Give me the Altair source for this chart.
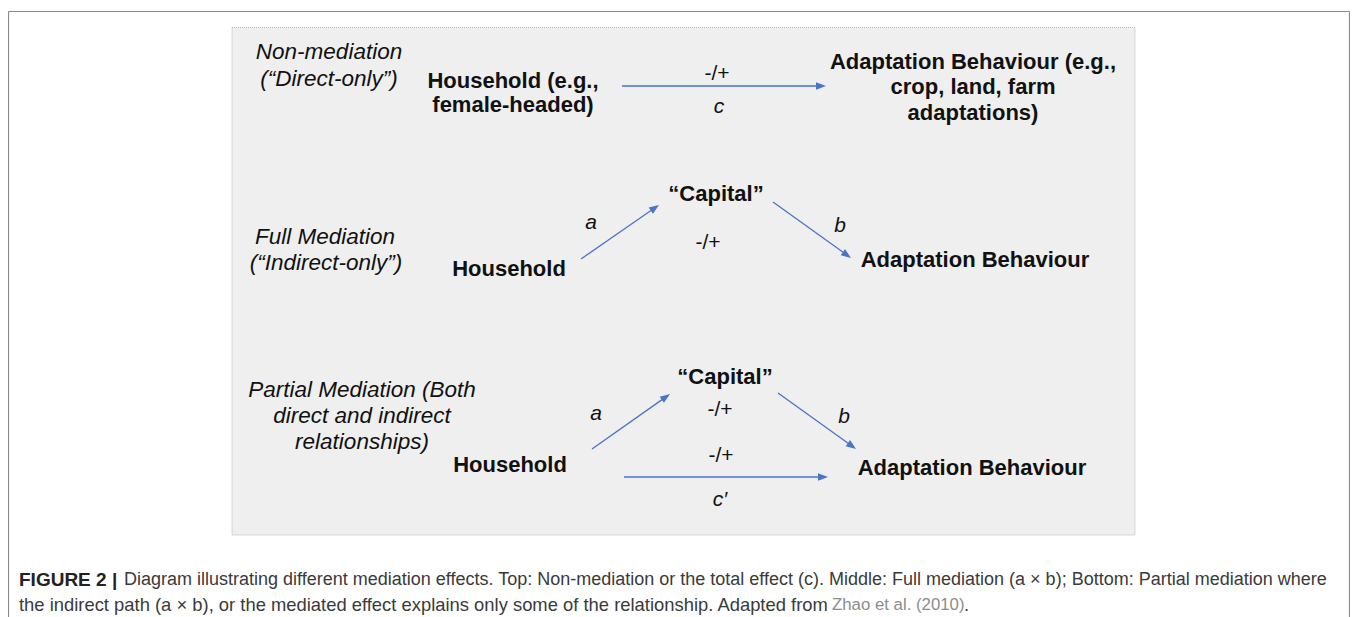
import math
import altair as alt
import pandas as pd

# ---------------- data ----------------
bold_text = ["Household (e.g.,", "female-headed)",
             "Adaptation Behaviour (e.g.,", "crop, land, farm", "adaptations)",
             "\u201cCapital\u201d", "Household", "Adaptation Behaviour",
             "\u201cCapital\u201d", "Household", "Adaptation Behaviour"]
bold_x = [513, 513, 973, 973, 973, 716, 509, 975, 725, 510, 972]
bold_y = [81, 105, 62, 87, 113, 194, 269, 260, 377, 465, 468]

italic_text = ["Non-mediation", "(\u201cDirect-only\u201d)",
               "Full Mediation", "(\u201cIndirect-only\u201d)",
               "Partial Mediation (Both", "direct and indirect", "relationships)"]
italic_x = [329, 329, 325, 326, 362, 362, 362]
italic_y = [52, 79, 237, 263, 390, 416, 442]

path_text = ["c", "a", "b", "a", "b", "c\u2032"]
path_x = [719, 591, 840, 596, 844, 720]
path_y = [107, 223, 226, 414, 417, 500]

sign_text = ["-/+", "-/+", "-/+", "-/+"]
sign_x = [717, 708, 720, 721]
sign_y = [74, 243, 410, 456]

arrow_x1 = [622, 581, 773, 592, 778, 624]
arrow_y1 = [86, 259, 202, 449, 393, 477]
arrow_x2 = [826, 659, 851, 670, 856, 828]
arrow_y2 = [86, 205, 258, 394, 449, 477]

caption_text = ["FIGURE 2 |",
                "Diagram illustrating different mediation effects. Top: Non-mediation or the total effect (c). Middle: Full mediation (a \u00d7 b); Bottom: Partial mediation where",
                "the indirect path (a \u00d7 b), or the mediated effect explains only some of the relationship. Adapted from",
                "Zhao et al. (2010)", "."]
caption_x = [19, 124, 19, 832, 964]
caption_y = [580, 580, 605, 605, 605]
caption_kind = ["bold", "plain1", "plain2", "link", "plain2"]

border_x = [8.5, 8.5, 1349.5]
border_x2 = [8.5, 1349.5, 1349.5]
border_y = [11.5, 11.5, 11.5]
border_y2 = [640, 11.5, 640]
panel_x, panel_x2, panel_y, panel_y2 = [232], [1135], [27.5], [535]

# --------------- scales ----------------
W, H = 1342, 609
xs = alt.Scale(domain=[8, 8 + W], range=[0, W], nice=False, zero=False)
ys = alt.Scale(domain=[8, 8 + H], range=[0, H], nice=False, zero=False)
X = lambda f: alt.X(f, type="quantitative", scale=xs, axis=None)
Y = lambda f: alt.Y(f, type="quantitative", scale=ys, axis=None)

outer = alt.Chart(pd.DataFrame({"x": border_x, "x2": border_x2, "y": border_y, "y2": border_y2})).mark_rule(
    color="#8a8a8a", strokeWidth=1.2
).encode(x=X("x"), x2="x2", y=Y("y"), y2="y2")

panel = alt.Chart(pd.DataFrame({"x": panel_x, "x2": panel_x2, "y": panel_y, "y2": panel_y2})).mark_rect(
    fill="#efefef", stroke="#b5b5b5", strokeWidth=1, strokeDash=[1, 1]
).encode(x=X("x"), x2="x2", y=Y("y"), y2="y2")

FONT = "Liberation Sans, Arial, Helvetica, sans-serif"

def text_layer(texts, xv, yv, **kw):
    df = pd.DataFrame({"t": texts, "x": xv, "y": yv})
    return alt.Chart(df).mark_text(align="center", baseline="middle", font=FONT, **kw).encode(
        x=X("x"), y=Y("y"), text="t:N")

bold = text_layer(bold_text, bold_x, bold_y, fontSize=22, fontWeight="bold", color="#111111")
ital = text_layer(italic_text, italic_x, italic_y, fontSize=22.5, fontStyle="italic", color="#111111")
paths = text_layer(path_text, path_x, path_y, fontSize=21, fontStyle="italic", color="#111111")
signs = text_layer(sign_text, sign_x, sign_y, fontSize=21, color="#111111")

HEAD = 10.0
rows = []
for x1, y1, x2, y2 in zip(arrow_x1, arrow_y1, arrow_x2, arrow_y2):
    dx, dy = x2 - x1, y2 - y1
    L = math.hypot(dx, dy)
    ux, uy = dx / L, dy / L
    rows.append({"x1": x1, "y1": y1,
                 "xe": x2 - ux * HEAD * 0.8, "ye": y2 - uy * HEAD * 0.8,
                 "hx": x2 - ux * HEAD / 2, "hy": y2 - uy * HEAD / 2,
                 "ang": math.degrees(math.atan2(dx, -dy)) % 360})
adf = pd.DataFrame(rows)
ARROW = "#4a74c6"
shafts = alt.Chart(adf).mark_rule(color=ARROW, strokeWidth=1.3).encode(
    x=X("x1"), y=Y("y1"), x2="xe", y2="ye")
heads = alt.Chart(adf).mark_point(
    shape="M0,-1L0.75,1L-0.75,1Z", filled=True, color=ARROW, opacity=1, size=100
).encode(x=X("hx"), y=Y("hy"), angle=alt.Angle("ang:Q", scale=None))

cap_df = pd.DataFrame({"t": caption_text, "x": caption_x, "y": caption_y, "k": caption_kind})
CFONT = "Liberation Sans, Arial, sans-serif"

def cap(kind, **kw):
    return alt.Chart(cap_df).transform_filter(f"datum.k == '{kind}'").mark_text(
        align="left", baseline="middle", font=CFONT, **kw
    ).encode(x=X("x"), y=Y("y"), text="t:N")

cap_bold = cap("bold", fontSize=19, fontWeight="bold", color="#222222")
cap_p1 = cap("plain1", fontSize=18, color="#3a3a3a")
cap_p2 = cap("plain2", fontSize=18.4, color="#3a3a3a")
cap_link = cap("link", fontSize=16.8, color="#8c8c8c")

chart = alt.layer(panel, outer, shafts, heads, bold, ital, paths, signs,
                  cap_bold, cap_p1, cap_p2, cap_link).properties(
    width=W, height=H, padding=0,
    autosize=alt.AutoSizeParams(type="none"),
    background="white",
).configure_view(stroke=None)

chart.save("out.html", embed_options={"renderer": "svg", "actions": False})
